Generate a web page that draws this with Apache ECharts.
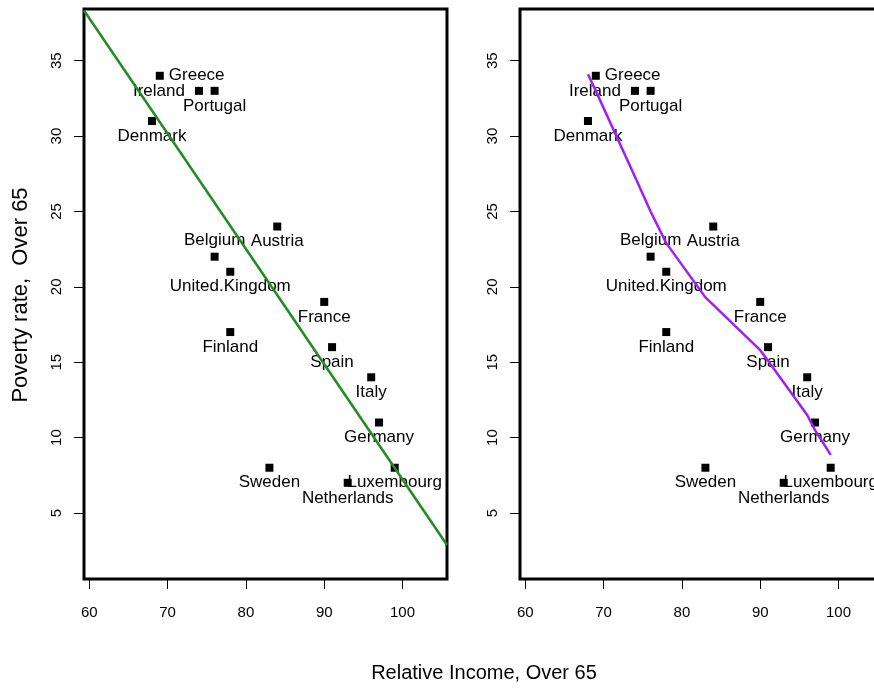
<!DOCTYPE html>
<html><head><meta charset="utf-8">
<script src="https://cdn.jsdelivr.net/npm/echarts@6/dist/echarts.min.js"></script>
<style>html,body{margin:0;padding:0;background:#fff}#c{width:874px;height:688px}</style>
</head><body><div id="c"></div>
<script>
// ---- data ----
const countries = ['Greece','Ireland','Portugal','Denmark','Austria','Belgium','United.Kingdom','France','Finland','Spain','Italy','Germany','Sweden','Luxembourg','Netherlands'];
const relIncome = [69,74,76,68,84,76,78,90,78,91,96,97,83,99,93];
const povertyRate = [34,33,33,31,24,22,21,19,17,16,14,11,8,8,7];
const xTicks = [60,70,80,90,100];
const yTicks = [5,10,15,20,25,30,35];
// lowess smooth
const lowessX = [68,69,74,76,78,83,84,90,91,93,96,97,99];
const lowessY = [34.1,33.0,27.3,25.0,22.9,19.3,18.8,15.8,15.1,13.65,11.5,10.5,8.85];
const xTitle = 'Relative Income, Over 65';
const yTitle = 'Poverty rate,  Over 65';

// ---- styling / placement ----
const FONT = 'Liberation Sans, Arial, sans-serif';
const X_RANGE = [59.32, 105.68];
const Y_RANGE = [0.62, 38.43];
const placement = {
  'Greece':{p:'right',d:5}, 'Ireland':{p:'left',d:10}, 'Belgium':{p:'top',d:4}
};

// OLS fit from the data
const n = relIncome.length;
const mx = relIncome.reduce((a,b)=>a+b,0)/n;
const my = povertyRate.reduce((a,b)=>a+b,0)/n;
let sxy=0,sxx=0;
for(let i=0;i<n;i++){sxy+=(relIncome[i]-mx)*(povertyRate[i]-my);sxx+=(relIncome[i]-mx)**2;}
const slope = sxy/sxx, icpt = my - slope*mx;
const fitLine = X_RANGE.map(x=>[x, icpt+slope*x]);

const pts = countries.map((c,i)=>{
  const pl = placement[c] || {p:'bottom',d:2.5};
  return {name:c, value:[relIncome[i], povertyRate[i]], label:{position:pl.p, distance:pl.d}};
});
const lowess = lowessX.map((x,i)=>[x, lowessY[i]]);

function xAx(gi){return {type:'value', gridIndex:gi, min:X_RANGE[0], max:X_RANGE[1],
  axisLine:{show:false}, splitLine:{show:false},
  axisTick:{show:true, length:10, customValues:xTicks, lineStyle:{color:'#000',width:1}},
  axisLabel:{customValues:xTicks, margin:26, fontSize:15, color:'#000', fontFamily:FONT}};}
function yAx(gi){return {type:'value', gridIndex:gi, min:Y_RANGE[0], max:Y_RANGE[1],
  axisLine:{show:false}, splitLine:{show:false},
  axisTick:{show:true, length:10, customValues:yTicks, lineStyle:{color:'#000',width:1}},
  axisLabel:{customValues:yTicks, rotate:90, margin:20, fontSize:15, color:'#000', fontFamily:FONT}};}
function scat(gi){return {type:'scatter', xAxisIndex:gi, yAxisIndex:gi, z:2,
  symbol:'rect', symbolSize:8, itemStyle:{color:'#000', opacity:1},
  label:{show:true, formatter:'{b}', fontSize:17, lineHeight:17, color:'#000', fontFamily:FONT},
  emphasis:{disabled:true},
  data:pts};}

const chart = echarts.init(document.getElementById('c'), null, {renderer:'canvas'});
chart.setOption({
  animation:false,
  backgroundColor:'#fff',
  grid:[
    {left:84, top:9, width:363, height:570, show:true, borderColor:'#000', borderWidth:3, outerBoundsMode:'none', containLabel:false},
    {left:520, top:9, width:363, height:570, show:true, borderColor:'#000', borderWidth:3, outerBoundsMode:'none', containLabel:false}
  ],
  xAxis:[xAx(0), xAx(1)],
  yAxis:[yAx(0), yAx(1)],
  series:[
    scat(0), scat(1),
    {type:'line', xAxisIndex:0, yAxisIndex:0, z:5, data:fitLine, symbol:'none', clip:true,
      lineStyle:{color:'#228B22', width:2.5}},
    {type:'line', xAxisIndex:1, yAxisIndex:1, z:5, data:lowess, symbol:'none',
      lineStyle:{color:'#A020F0', width:2.5}}
  ],
  graphic:[
    {type:'text', x:484, y:673, style:{text:xTitle, font:'20px '+FONT, fill:'#000', textAlign:'center', textVerticalAlign:'middle'}},
    {type:'text', x:21, y:295, rotation:Math.PI/2, style:{text:yTitle, font:'22px '+FONT, fill:'#000', textAlign:'center', textVerticalAlign:'middle'}}
  ]
});
</script></body></html>
